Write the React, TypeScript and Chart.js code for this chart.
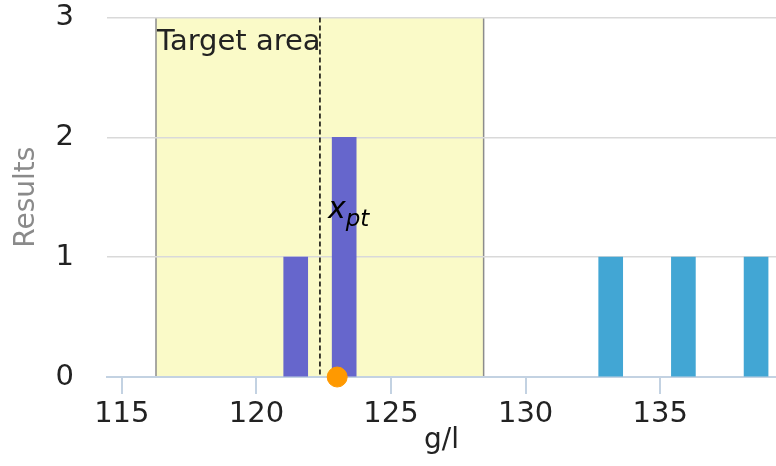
import React, { useEffect, useRef } from 'react';
import { Chart, registerables } from 'chart.js';

Chart.register(...registerables);

// ---- data ----
const xTicks = [115, 120, 125, 130, 135];
const yTicks = [0, 1, 2, 3];
const purpleX = [121.46, 123.26];
const purpleY = [1, 2];
const blueX = [133.16, 135.86, 138.56];
const blueY = [1, 1, 1];
const pointX = [123.0];
const pointY = [0];
const xMin = 114.45;
const xMax = 139.3;
const yMin = 0;
const yMax = 3;
const targetMin = 116.27;
const targetMax = 128.44;
const xpt = 122.36;
const targetLabel = 'Target area';
const xLabel = 'g/l';
const yLabel = 'Results';

const FONT = "'DejaVu Sans', sans-serif";

const overlayPlugin = {
  id: 'overlay',
  beforeDraw(chart: any) {
    const { ctx, scales } = chart;
    const x = scales.x;
    const y = scales.y;
    const l = x.getPixelForValue(targetMin);
    const r = x.getPixelForValue(targetMax);
    const t = y.getPixelForValue(yMax);
    const b = y.getPixelForValue(yMin);
    ctx.save();
    ctx.fillStyle = '#fafac8';
    ctx.fillRect(l, t, r - l, b - t);
    ctx.strokeStyle = '#8c8c8c';
    ctx.lineWidth = 1.5;
    ctx.beginPath();
    ctx.moveTo(l, t);
    ctx.lineTo(l, b);
    ctx.moveTo(r, t);
    ctx.lineTo(r, b);
    ctx.stroke();
    ctx.restore();
  },
  beforeDatasetsDraw(chart: any) {
    const { ctx, scales } = chart;
    const x = scales.x;
    const y = scales.y;
    const l = x.getPixelForValue(targetMin);
    const t = y.getPixelForValue(yMax);
    const b = y.getPixelForValue(yMin);
    const px = x.getPixelForValue(xpt);
    ctx.save();
    ctx.fillStyle = '#222';
    ctx.font = `29px ${FONT}`;
    ctx.textBaseline = 'alphabetic';
    ctx.textAlign = 'left';
    ctx.fillText(targetLabel, l + 1, t + 33);
    ctx.strokeStyle = '#000';
    ctx.lineWidth = 1.5;
    ctx.setLineDash([5, 3]);
    ctx.beginPath();
    ctx.moveTo(px, t);
    ctx.lineTo(px, b);
    ctx.stroke();
    ctx.restore();
  },
  afterDatasetsDraw(chart: any) {
    const { ctx, scales } = chart;
    const x = scales.x;
    const y = scales.y;
    const px = x.getPixelForValue(xpt);
    const ly = y.getPixelForValue(1.33);
    ctx.save();
    ctx.textBaseline = 'alphabetic';
    ctx.textAlign = 'left';
    ctx.fillStyle = '#000';
    ctx.font = `italic 30px ${FONT}`;
    ctx.fillText('x', px + 8, ly);
    const w = ctx.measureText('x').width;
    ctx.font = `italic 23px ${FONT}`;
    ctx.fillText('pt', px + 8 + w, ly + 8);
    ctx.restore();
  },
};

export default function App() {
  const ref = useRef<HTMLCanvasElement | null>(null);
  useEffect(() => {
    if (!ref.current) return;
    const chart = new Chart(ref.current, {
      type: 'bar',
      data: {
        datasets: [
          {
            type: 'scatter',
            data: pointX.map((v, i) => ({ x: v, y: pointY[i] })),
            backgroundColor: '#ff9900',
            borderColor: '#ff9900',
            pointRadius: 10,
            pointHoverRadius: 10,
            clip: false,
            order: 0,
          } as any,
          {
            data: purpleX.map((v, i) => ({ x: v, y: purpleY[i] })),
            backgroundColor: '#6666cc',
            barThickness: 24,
            grouped: false,
            order: 1,
          } as any,
          {
            data: blueX.map((v, i) => ({ x: v, y: blueY[i] })),
            backgroundColor: '#42a6d4',
            barThickness: 24,
            grouped: false,
            order: 2,
          } as any,
        ],
      },
      options: {
        animation: false,
        responsive: false,
        devicePixelRatio: 1,
        layout: { padding: 0, autoPadding: false },
        plugins: { legend: { display: false }, tooltip: { enabled: false } },
        scales: {
          x: {
            type: 'linear',
            min: xMin,
            max: xMax,
            offset: false,
            afterBuildTicks: (s: any) => {
              s.ticks = xTicks.map((v) => ({ value: v }));
            },
            afterFit: (s: any) => {
              s.height = 89;
            },
            grid: {
              offset: false,
              drawOnChartArea: false,
              drawTicks: true,
              tickLength: 17,
              color: '#c3d2e2',
              lineWidth: 2,
            },
            border: { display: true, color: '#c3d2e2', width: 2 },
            ticks: {
              font: { family: FONT, size: 29 },
              color: '#222',
              padding: 3,
              maxRotation: 0,
              autoSkip: false,
            },
            title: {
              display: true,
              text: xLabel,
              color: '#222',
              font: { family: FONT, size: 28 },
              padding: { top: 0, bottom: 8 },
            },
          },
          y: {
            type: 'linear',
            min: yMin,
            max: yMax,
            afterBuildTicks: (s: any) => {
              s.ticks = yTicks.map((v) => ({ value: v }));
            },
            afterFit: (s: any) => {
              s.width = 107;
            },
            grid: {
              color: (c: any) => (c.tick && c.tick.value === 0 ? 'rgba(0,0,0,0)' : '#d9d9d9'),
              lineWidth: 1.5,
              drawTicks: true,
              tickLength: 33,
              tickColor: 'rgba(0,0,0,0)',
            },
            border: { display: false },
            ticks: {
              font: { family: FONT, size: 29 },
              color: '#222',
              padding: 0,
            },
            title: {
              display: true,
              text: yLabel,
              color: '#8a8a8a',
              font: { family: FONT, size: 28 },
              padding: { top: 10, bottom: 0 },
            },
          },
        },
      } as any,
      plugins: [overlayPlugin],
    });
    return () => chart.destroy();
  }, []);
  return (
    <div style={{ position: 'fixed', left: 0, top: 0, width: 776, height: 466, background: '#fff' }}>
      <canvas ref={ref} width={776} height={466} style={{ display: 'block', width: 776, height: 466 }} />
    </div>
  );
}
